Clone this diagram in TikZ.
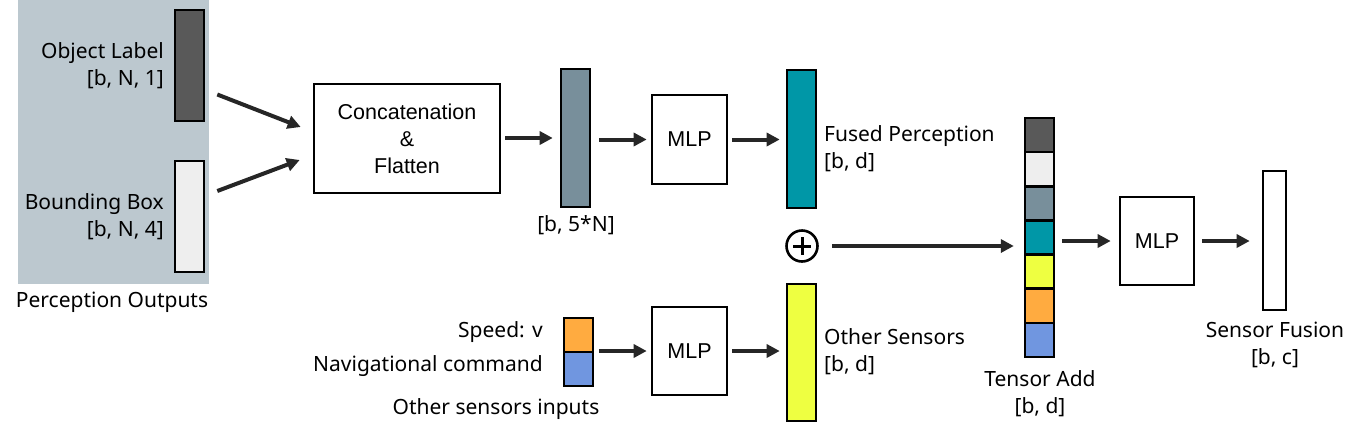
\documentclass[tikz,border=0pt]{standalone}
\usepackage{fontspec}
\setmainfont{Noto Sans}
\newfontfamily\arialf{Liberation Sans}
\usetikzlibrary{arrows.meta,calc}
\definecolor{bgc}{RGB}{188,200,207}
\definecolor{dgray}{RGB}{89,89,89}
\definecolor{lgray}{RGB}{238,238,238}
\definecolor{slate}{RGB}{120,143,155}
\definecolor{teal2}{RGB}{0,151,167}
\definecolor{yel}{RGB}{238,255,65}
\definecolor{orng}{RGB}{255,171,64}
\definecolor{blu}{RGB}{112,150,224}
\definecolor{ink}{RGB}{38,38,38}
\begin{document}
\begin{tikzpicture}[x=1pt,y=-1pt,
  lbl/.style={font=\fontsize{21}{27}\selectfont, inner sep=0pt},
  boxtxt/.style={font=\arialf\fontsize{21.5}{27}\selectfont},
  bar/.style={draw=black, line width=2.6pt, inner sep=0pt},
  blk/.style={draw=black, line width=2.6pt, inner sep=0pt, fill=white, boxtxt, align=center},
  arr/.style={draw=ink, line width=4pt, -{Triangle[length=13pt,width=13pt]}}
]
\useasboundingbox (0,0) rectangle (1360,437);
% perception outputs background
\node[fill=bgc, inner sep=0pt, minimum width=191pt, minimum height=284pt] (po) at (113.5,142) {};
\node[bar, fill=dgray, minimum width=29pt, minimum height=111pt] (ol) at (189.5,65.5) {};
\node[bar, fill=lgray, minimum width=29pt, minimum height=111pt] (bb) at (189.5,216.5) {};
\node[lbl, anchor=east, align=right] (oltxt) at (164,66) {Object Label\\{}[b, N, 1]};
\node[lbl, anchor=east, align=right] (bbtxt) at (164,216.5) {Bounding Box\\{}[b, N, 4]};
\node[lbl] (potxt) at (112,302.5) {Perception Outputs};
% concat
\node[blk, minimum width=186pt, minimum height=109pt] (cat) at (407,138.5) {Concatenation\\\&\\Flatten};
\draw[arr] ($(ol.east)+(12,29)$) -- ($(cat.west)+(-12,-11.5)$);
\draw[arr] ($(bb.east)+(12,-25.5)$) -- ($(cat.west)+(-13,21.5)$);
% flattened
\node[bar, fill=slate, minimum width=29pt, minimum height=138pt] (fl) at (575.5,138) {};
\node[lbl] (fltxt) at (576,225.5) {[b, 5*N]};
\draw[arr, shorten <=4pt, shorten >=7pt] (cat.east |- fl) -- (fl.west);
% MLP 1
\node[blk, minimum width=75pt, minimum height=89pt] (mlp1) at (689.5,139.5) {MLP};
\draw[arr, shorten <=8pt, shorten >=4pt] (fl.east |- mlp1) -- (mlp1.west);
% fused
\node[bar, fill=teal2, minimum width=29pt, minimum height=138pt] (fp) at (801.5,139) {};
\node[lbl, anchor=west, align=left] (fptxt) at (824,148.5) {Fused Perception\\{}[b, d]};
\draw[arr, shorten <=4pt, shorten >=6pt] (mlp1.east) -- (fp.west |- mlp1);
% plus
\node[circle, draw=black, line width=2.6pt, minimum size=31pt, inner sep=0pt] (plus) at (802,246) {};
\draw[line width=3pt] ($(plus.center)+(-9,0)$) -- ($(plus.center)+(9,0)$);
\draw[line width=3pt] ($(plus.center)+(0,-9)$) -- ($(plus.center)+(0,9)$);
% other sensors inputs
\node[bar, fill=orng, minimum width=29pt, minimum height=34pt] (spd) at (578.5,335) {};
\node[bar, fill=blu, minimum width=29pt, minimum height=34pt] (nav) at (578.5,369) {};
\node[lbl, anchor=east] (spdtxt) at (543,332.5) {Speed: v};
\node[lbl, anchor=east] (navtxt) at (543,366.5) {Navigational command};
\node[lbl] (ositxt) at (496,409.5) {Other sensors inputs};
% MLP 2
\node[blk, minimum width=75pt, minimum height=88pt] (mlp2) at (689.5,351) {MLP};
\draw[arr, shorten <=5pt, shorten >=4pt] (nav.east |- mlp2) -- (mlp2.west);
% other sensors
\node[bar, fill=yel, minimum width=29pt, minimum height=137pt] (os) at (801.5,352.5) {};
\node[lbl, anchor=west, align=left] (ostxt) at (824,351.5) {Other Sensors\\{}[b, d]};
\draw[arr, shorten <=4pt, shorten >=6pt] (mlp2.east) -- (os.west |- mlp2);
% tensor add column
\node[inner sep=0pt, minimum width=29pt, minimum height=239pt] (ta) at (1039.5,237.5) {};
\foreach \c [count=\i] in {dgray,lgray,slate,teal2,yel,orng,blu}{
  \node[bar, fill=\c, minimum width=29pt, minimum height=34.14pt] (ta\i) at (1039.5,{118+34.14*(\i-0.5)}) {};
}
\node[lbl, align=center] (tatxt) at (1040,393.5) {Tensor Add\\{}[b, d]};
\draw[arr, shorten <=13pt, shorten >=11pt] (plus.east) -- (plus.east -| ta.west);
% MLP 3
\node[blk, minimum width=74pt, minimum height=88pt] (mlp3) at (1157,241) {MLP};
\draw[arr, shorten <=8pt, shorten >=8pt] (ta.east |- mlp3) -- (mlp3.west);
% sensor fusion
\node[bar, fill=white, minimum width=23pt, minimum height=139pt] (sf) at (1274.5,240.5) {};
\node[lbl, align=center] (sftxt) at (1275,344.5) {Sensor Fusion\\{}[b, c]};
\draw[arr, shorten <=7pt, shorten >=12pt] (mlp3.east) -- (sf.west |- mlp3);
\end{tikzpicture}
\end{document}
